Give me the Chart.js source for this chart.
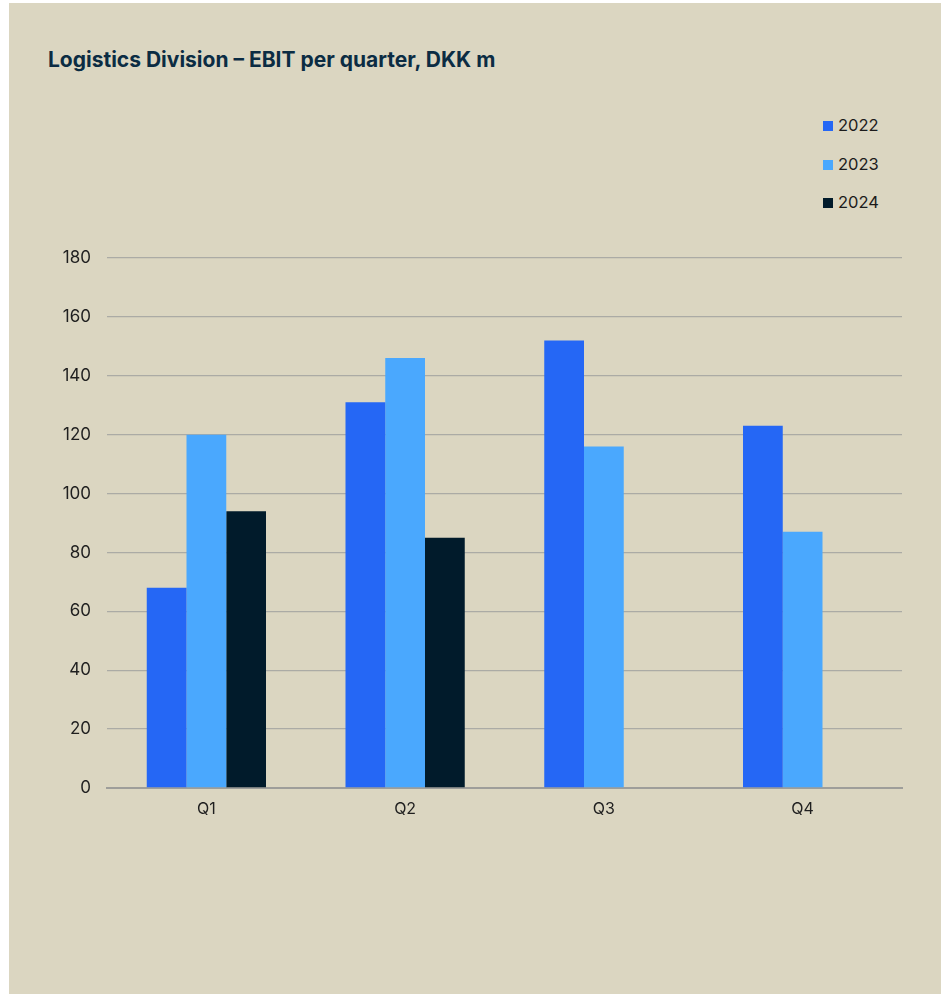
<!DOCTYPE html>
<html>
<head>
<meta charset="utf-8">
<script src="https://cdn.jsdelivr.net/npm/chart.js@4"></script>
<style>
  html, body { margin: 0; padding: 0; background: #ffffff; }
  body { width: 946px; height: 995px; position: relative; overflow: hidden; }
  #panel { position: absolute; left: 9px; top: 3px; width: 932px; height: 991px; background: #DBD6C1; }
  #title { position: absolute; left: 48px; top: 47px; line-height: 26px; font-family: Inter, "Noto Sans", sans-serif; font-weight: 700; font-size: 21px; color: #0B2C43; white-space: nowrap; letter-spacing: 0px; }
  #legend { position: absolute; left: 823px; top: 115px; font-family: Inter, "Noto Sans", sans-serif; font-size: 16.5px; color: #1b1b1b; }
  .item { height: 38.5px; display: flex; align-items: flex-start; }
  .box { width: 10px; height: 10px; margin-top: 6px; margin-right: 5px; }
  #wrap { position: absolute; left: 0; top: 0; width: 946px; height: 995px; }
</style>
</head>
<body>
<div id="panel"></div>
<div id="title">Logistics Division – EBIT per quarter, DKK m</div>
<div id="legend"></div>
<div id="wrap"><canvas id="c" width="946" height="995"></canvas></div>
<script>
const categories = ["Q1", "Q2", "Q3", "Q4"];
const seriesNames = ["2022", "2023", "2024"];
const values2022 = [68, 131, 152, 123];
const values2023 = [120, 146, 116, 87];
const values2024 = [94, 85, null, null];
const yTicks = [0, 20, 40, 60, 80, 100, 120, 140, 160, 180];
const colors = ["#2567F5", "#4AA8FE", "#011B2B"];

const seriesValues = [values2022, values2023, values2024];

const legend = document.getElementById('legend');
seriesNames.forEach((n, i) => {
  const it = document.createElement('div');
  it.className = 'item';
  const b = document.createElement('div');
  b.className = 'box';
  b.style.background = colors[i];
  const t = document.createElement('span');
  t.textContent = n;
  it.appendChild(b); it.appendChild(t);
  legend.appendChild(it);
});

Chart.defaults.font.family = 'Inter, "Noto Sans", sans-serif';
Chart.defaults.font.size = 17;
Chart.defaults.color = '#1f1f1f';

new Chart(document.getElementById('c'), {
  type: 'bar',
  data: {
    labels: categories,
    datasets: seriesNames.map((n, i) => ({
      label: n,
      data: seriesValues[i],
      backgroundColor: colors[i],
      borderWidth: 0,
      categoryPercentage: 0.6,
      barPercentage: 1.0
    }))
  },
  options: {
    responsive: false,
    animation: false,
    layout: { padding: { left: 48, right: 44, top: 258, bottom: 167 } },
    plugins: { legend: { display: false }, title: { display: false }, tooltip: { enabled: false } },
    scales: {
      x: {
        grid: { display: false, drawTicks: false },
        border: { display: true, color: '#9E9E9A', width: 2 },
        ticks: { padding: 12, color: '#1f1f1f', font: { size: 16 } },
        afterFit: s => { s.height = 40; }
      },
      y: {
        min: 0, max: 180,
        afterBuildTicks: s => { s.ticks = yTicks.map(v => ({ value: v })); },
        grid: { color: '#ABABA5', lineWidth: 1.3, drawTicks: false },
        border: { display: false },
        ticks: { padding: 16, color: '#1f1f1f' },
        afterFit: s => { s.width = 59; }
      }
    }
  }
});
</script>
</body>
</html>
